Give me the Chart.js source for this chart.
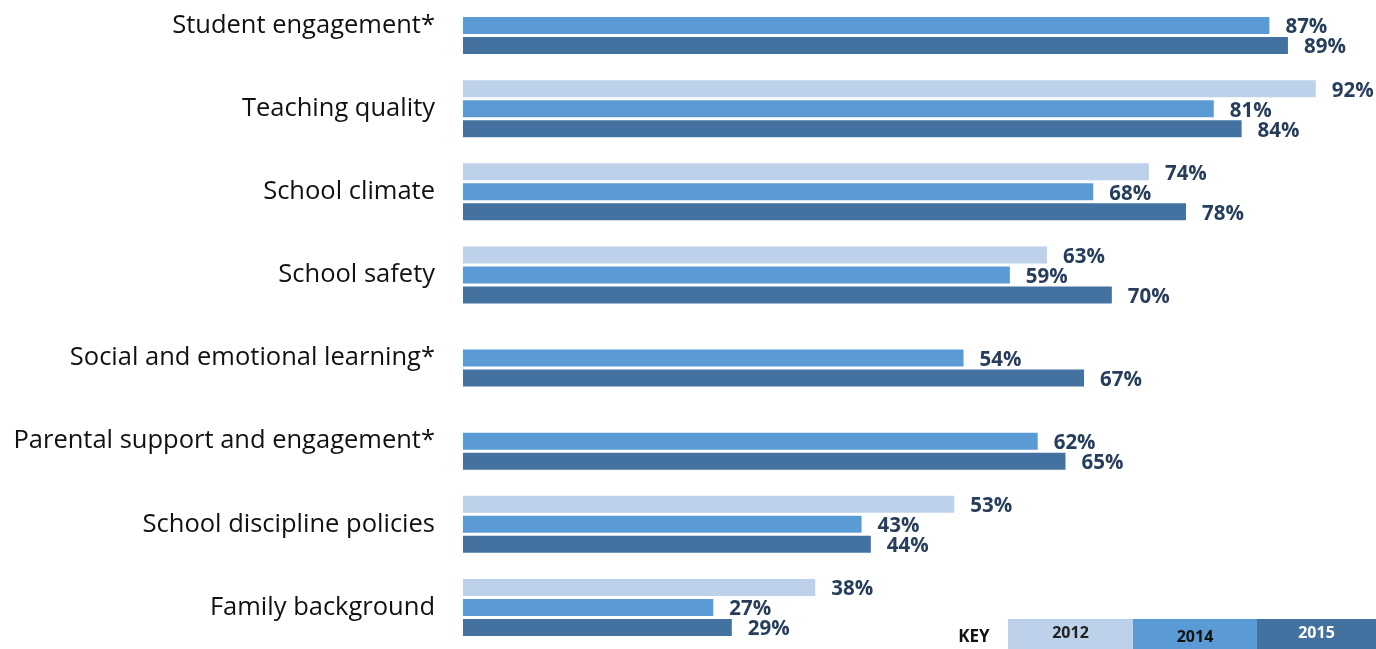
<!DOCTYPE html>
<html>
<head>
<meta charset="utf-8">
<script src="https://cdn.jsdelivr.net/npm/chart.js@4.4.0/dist/chart.umd.min.js"></script>
<style>
  html, body { margin: 0; padding: 0; background: #fff; }
  #wrap { position: relative; width: 1376px; height: 649px; overflow: hidden; }
  #chart-box { position: absolute; left: 0; top: -16px; width: 1376px; height: 665px; }
  #key { position: absolute; left: 940px; top: 619px; height: 30px; display: flex; font-family: "Open Sans", sans-serif; font-weight: bold; }
  #key .lbl { width: 68px; line-height: 34px; font-size: 17px; text-align: center; color: #111; }
  #key .box { line-height: 28px; font-size: 16px; text-align: center; }
</style>
</head>
<body>
<div id="wrap">
  <div id="chart-box"><canvas id="chart-bars"></canvas></div>
  <div id="key"><div class="lbl">KEY</div></div>
</div>
<script>
// categories and survey results per year (percent)
const categories = [
  'Student engagement*',
  'Teaching quality',
  'School climate',
  'School safety',
  'Social and emotional learning*',
  'Parental support and engagement*',
  'School discipline policies',
  'Family background'
];
const years = ['2012', '2014', '2015'];
const values2012 = [null, 92, 74, 63, null, null, 53, 38];
const values2014 = [87, 81, 68, 59, 54, 62, 43, 27];
const values2015 = [89, 84, 78, 70, 67, 65, 44, 29];
const colors = ['#BDD1EA', '#5B9BD5', '#4472A0'];
const keyWidths = [125, 124, 119];
const keyText = ['#222', '#111', '#fff'];
const keyShift = [-2, 2, -2];

// value labels at the end of each bar
const barLabels = {
  id: 'barLabels',
  afterDatasetsDraw(chart){
    const ctx = chart.ctx;
    ctx.save();
    ctx.font = 'bold 20.5px "Open Sans", sans-serif';
    ctx.fillStyle = '#263E5C';
    ctx.textAlign = 'left';
    ctx.textBaseline = 'middle';
    chart.data.datasets.forEach((ds, i) => {
      chart.getDatasetMeta(i).data.forEach((bar, j) => {
        const v = ds.data[j];
        if(v === null || v === undefined) return;
        ctx.fillText(v + '%', bar.x + 16, bar.y + 2);
      });
    });
    ctx.restore();
  }
};

new Chart(document.getElementById('chart-bars'), {
  type: 'bar',
  data: {
    labels: categories,
    datasets: [values2012, values2014, values2015].map((vals, i) => ({
      label: years[i],
      data: vals,
      backgroundColor: colors[i],
      borderWidth: 0,
      barPercentage: 0.85,
      categoryPercentage: 0.7217
    }))
  },
  options: {
    indexAxis: 'y',
    responsive: true,
    maintainAspectRatio: false,
    animation: false,
    layout: { padding: 0 },
    plugins: { legend: { display: false }, tooltip: { enabled: false } },
    scales: {
      x: { min: 0, max: 98.5, display: false },
      y: {
        grid: { display: false, drawTicks: false },
        border: { display: false },
        ticks: { padding: 28, color: '#111', font: { family: '"Open Sans", sans-serif', size: 25.5 } },
        afterFit(scale){
          // fixed label column, no extra vertical margin from label heights
          scale.width = 463;
          scale.paddingTop = 0;
          scale.paddingBottom = 0;
        }
      }
    }
  },
  plugins: [barLabels]
});

// key boxes built from the year list
const key = document.getElementById('key');
years.forEach((y, i) => {
  const d = document.createElement('div');
  d.className = 'box';
  d.textContent = y;
  d.style.width = keyWidths[i] + 'px';
  d.style.background = colors[i];
  d.style.color = keyText[i];
  d.style.lineHeight = (30 + 2 * keyShift[i]) + 'px';
  key.appendChild(d);
});
</script>
</body>
</html>
